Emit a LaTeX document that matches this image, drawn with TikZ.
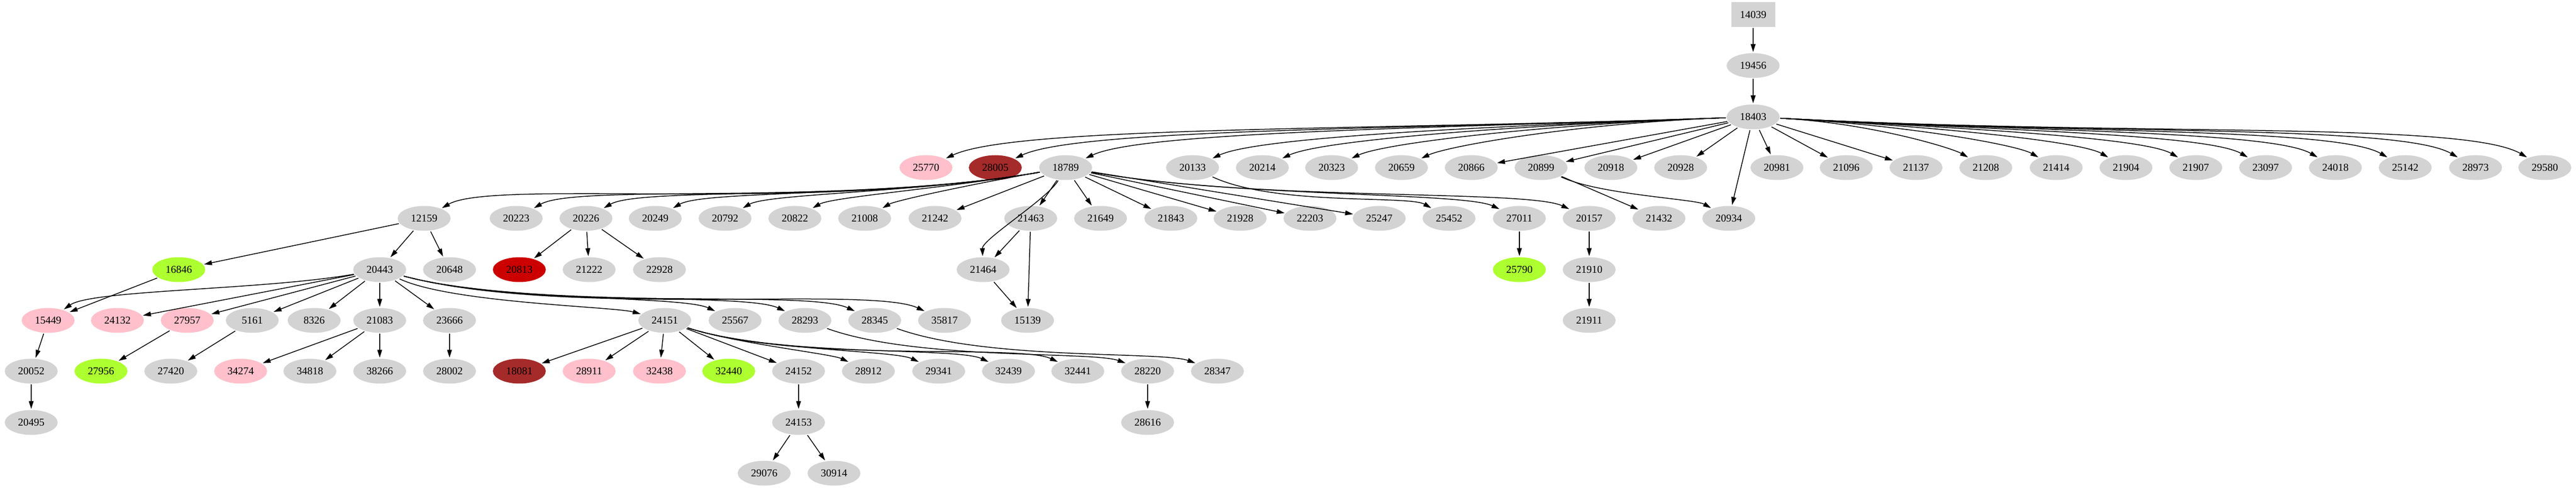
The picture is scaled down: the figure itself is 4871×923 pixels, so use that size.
\documentclass[tikz,border=0pt]{standalone}
\usepackage{fontspec}
\setmainfont{Liberation Serif}
\usetikzlibrary{shapes.geometric,arrows.meta}
\definecolor{ng}{HTML}{D3D3D3}
\definecolor{np}{HTML}{FFC0CB}
\definecolor{nb}{HTML}{A52A2A}
\definecolor{nr}{HTML}{CD0000}
\definecolor{nl}{HTML}{ADFF2F}
\tikzset{
 nd/.style={ellipse,fill=#1,draw=none,minimum width=10pt,minimum height=4.7pt,inner sep=0pt,font=\fontsize{2}{2.2}\selectfont},
 e/.style={line width=0.15pt,-{Triangle[length=1.5pt,width=0.9pt]}},
 cv/.style n args={4}{out=#1,in=#2,out looseness=#3,in looseness=#4}
}
\begin{document}
\begin{tikzpicture}[x=0.1pt,y=0.1pt]
\useasboundingbox (0,0) rectangle (4871,-923);
\node[rectangle,fill=ng,minimum width=8.3pt,minimum height=4.7pt,inner sep=0pt,font=\fontsize{2}{2.2}\selectfont] (n14039) at (3315,-28) {14039};
\node[nd=ng] (n19456) at (3315,-124) {19456};
\node[nd=ng] (n18403) at (3315,-221) {18403};
% row 3
\foreach \x/\l/\c in {1751/25770/np,1882/28005/nb,2015/18789/ng,2255/20133/ng,2387/20214/ng,2518/20323/ng,2650/20659/ng,2782/20866/ng,2914/20899/ng,3046/20918/ng,3178/20928/ng,3360/20981/ng,3491/21096/ng,3623/21137/ng,3755/21208/ng,3888/21414/ng,4020/21904/ng,4152/21907/ng,4284/23097/ng,4416/24018/ng,4548/25142/ng,4681/28973/ng,4812/29580/ng}
 \node[nd=\c] (n\l) at (\x,-317) {\l};
% row 4
\foreach \x/\l in {802/12159,976/20223,1108/20226,1239/20249,1371/20792,1503/20822,1635/21008,1768/21242,1949/21463,2081/21649,2214/21843,2345/21928,2477/22203,2608/25247,2740/25452,2873/27011,3005/20157,3137/21432,3269/20934}
 \node[nd=ng] (n\l) at (\x,-413) {\l};
% row 5
\foreach \x/\l/\c in {338/16846/nl,718/20443/ng,850/20648/ng,982/20813/nr,1114/21222/ng,1247/22928/ng,1859/21464/ng,2873/25790/nl,3005/21910/ng}
 \node[nd=\c] (n\l) at (\x,-510) {\l};
% row 6
\foreach \x/\l/\c in {91/15449/np,222/24132/np,354/27957/np,477/5161/ng,594/8326/ng,718/21083/ng,850/23666/ng,1257/24151/ng,1390/25567/ng,1522/28293/ng,1654/28345/ng,1786/35817/ng,1943/15139/ng,3005/21911/ng}
 \node[nd=\c] (n\l) at (\x,-606) {\l};
% row 7
\foreach \x/\l/\c in {59/20052/ng,191/27956/nl,323/27420/ng,455/34274/np,586/34818/ng,718/38266/ng,850/28002/ng,982/18081/nb,1114/28911/np,1247/32438/np,1378/32440/nl,1510/24152/ng,1642/28912/ng,1775/29341/ng,1907/32439/ng,2038/32441/ng,2170/28220/ng,2302/28347/ng}
 \node[nd=\c] (n\l) at (\x,-702) {\l};
% row 8
\foreach \x/\l in {59/20495,1510/24153,2170/28616}
 \node[nd=ng] (n\l) at (\x,-799) {\l};
% row 9
\foreach \x/\l in {1445/29076,1577/30914}
 \node[nd=ng] (n\l) at (\x,-895) {\l};
% edges
\draw[e] (n14039) -- (n19456);
\draw[e] (n19456) -- (n18403);
\foreach \t in {25770,28005,18789,20133,20214,20323,20659}
 \draw[e] (n18403) to[cv={182}{25}{1.2}{0.25}] (n\t);
\foreach \t in {20866,20899,20918,20928,20981,20934,21096,21137}
 \draw[e] (n18403) -- (n\t);
\foreach \t in {21208,21414,21904,21907,23097,24018,25142,28973,29580}
 \draw[e] (n18403) to[cv={-3}{150}{1.2}{0.25}] (n\t);
\foreach \t in {12159,20223,20226,20249,20792,20822,21008}
 \draw[e] (n18789) to[cv={190}{30}{1.0}{0.25}] (n\t);
\foreach \t in {21242,21463,21649,21843,21928,22203,25247}
 \draw[e] (n18789) -- (n\t);
\draw[e] (n18789) to[cv={240}{92}{0.5}{0.4}] (n21464);
\draw[e] (n18789) to[cv={-10}{155}{0.9}{0.25}] (n27011);
\draw[e] (n18789) to[cv={-10}{155}{0.9}{0.25}] (n20157);
\draw[e] (n20133) to[cv={-25}{150}{0.8}{0.3}] (n25452);
\draw[e] (n20899) -- (n21432);
\draw[e] (n20899) to[cv={-25}{150}{0.7}{0.3}] (n20934);
\foreach \t in {16846,20443,20648} \draw[e] (n12159) -- (n\t);
\foreach \t in {20813,21222,22928} \draw[e] (n20226) -- (n\t);
\draw[e] (n21463) -- (n21464);
\draw[e] (n21463) -- (n15139);
\draw[e] (n21464) -- (n15139);
\draw[e] (n27011) -- (n25790);
\draw[e] (n20157) -- (n21910);
\draw[e] (n21910) -- (n21911);
\draw[e] (n16846) -- (n15449);
\draw[e] (n20443) to[cv={190}{35}{0.8}{0.3}] (n15449);
\foreach \t in {24132,27957,5161,8326,21083,23666} \draw[e] (n20443) -- (n\t);
\draw[e] (n20443) to[cv={-25}{165}{0.6}{0.3}] (n24151);
\foreach \t in {25567,28293,28345,35817} \draw[e] (n20443) to[cv={-15}{155}{0.8}{0.3}] (n\t);
\draw[e] (n15449) -- (n20052);
\draw[e] (n20052) -- (n20495);
\draw[e] (n27957) -- (n27956);
\draw[e] (n5161) -- (n27420);
\foreach \t in {34274,34818,38266} \draw[e] (n21083) -- (n\t);
\draw[e] (n23666) -- (n28002);
\foreach \t in {18081,28911,32438,32440,24152} \draw[e] (n24151) -- (n\t);
\foreach \t in {28912,29341,32439,32441} \draw[e] (n24151) to[cv={-18}{155}{0.8}{0.3}] (n\t);
\draw[e] (n28293) to[cv={-20}{160}{0.8}{0.3}] (n28220);
\draw[e] (n28345) to[cv={-20}{160}{0.8}{0.3}] (n28347);
\draw[e] (n24152) -- (n24153);
\draw[e] (n28220) -- (n28616);
\draw[e] (n24153) -- (n29076);
\draw[e] (n24153) -- (n30914);
\end{tikzpicture}
\end{document}
